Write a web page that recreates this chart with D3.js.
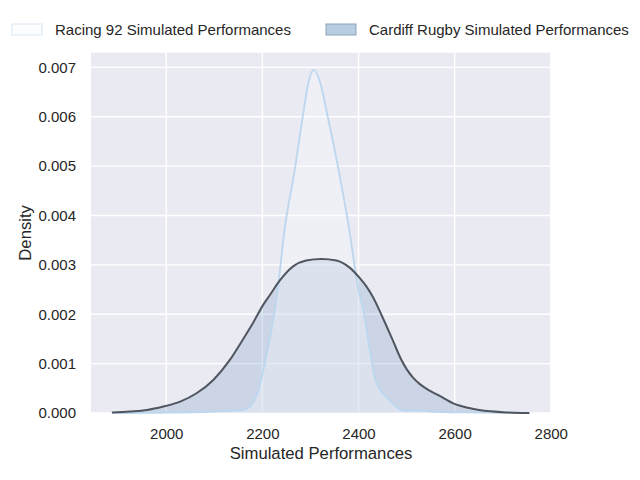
<!DOCTYPE html>
<html>
<head>
<meta charset="utf-8">
<script src="https://cdn.jsdelivr.net/npm/d3@7"></script>
<style>
  body { margin: 0; background: #fff; }
  text { font-family: "Liberation Sans", Arial, sans-serif; fill: #262626; }
</style>
</head>
<body>
<svg id="chart" width="640" height="480"></svg>
<script>
// density curves (score, density)
var raceX = [1888, 2070, 2118, 2159, 2174, 2190, 2205, 2232, 2246, 2267, 2284, 2296, 2307, 2320, 2336, 2359, 2381, 2398, 2412, 2423, 2435, 2464, 2495, 2527, 2568, 2651, 2757];
var raceY = [0, 0.00002, 0.00004, 0.00006, 0.00013, 0.0004, 0.001, 0.0025, 0.0037, 0.0049, 0.006, 0.0067, 0.00695, 0.0067, 0.006, 0.0049, 0.0037, 0.0026, 0.002, 0.0013, 0.00067, 0.00026, 0.00005, 0.00005, 0.00002, 0.00001, 0];

var cardX = [1887, 1925, 1960, 1994, 2029, 2063, 2098, 2132, 2157, 2182, 2203, 2215, 2236, 2264, 2291, 2323, 2354, 2381, 2402, 2416, 2430, 2450, 2471, 2489, 2513, 2527, 2547, 2568, 2596, 2630, 2651, 2713, 2755];
var cardY = [0.00001, 0.00003, 0.00006, 0.00013, 0.00023, 0.0004, 0.00067, 0.00107, 0.00145, 0.00185, 0.00221, 0.00238, 0.00268, 0.00297, 0.00309, 0.00312, 0.00309, 0.00295, 0.00274, 0.00257, 0.00235, 0.00194, 0.00148, 0.00108, 0.00072, 0.00059, 0.00046, 0.00035, 0.0002, 0.0001, 0.00006, 0.00001, 0];

var xTicks = [2000, 2200, 2400, 2600, 2800];
var yTicks = [0, 0.001, 0.002, 0.003, 0.004, 0.005, 0.006, 0.007];
var labels = ["Racing 92 Simulated Performances", "Cardiff Rugby Simulated Performances"];

var svg = d3.select("#chart");
var pLeft = 91, pRight = 551, pTop = 52.7, pBottom = 413;

var allX = raceX.concat(cardX);
var xmin = d3.min(allX), xmax = d3.max(allX), pad = (xmax - xmin) * 0.05;
var x = d3.scaleLinear().domain([xmin - pad, xmax + pad]).range([pLeft, pRight]);
var ymax = d3.max(raceY.concat(cardY)) * 1.05;
var y = d3.scaleLinear().domain([0, ymax]).range([pBottom, pTop]);

svg.append("rect").attr("x", pLeft).attr("y", pTop)
  .attr("width", pRight - pLeft).attr("height", pBottom - pTop).attr("fill", "#eaeaf2");

var grid = svg.append("g");
grid.selectAll(".gx").data(xTicks).enter().append("line")
  .attr("x1", d => x(d)).attr("x2", d => x(d)).attr("y1", pTop).attr("y2", pBottom)
  .attr("stroke", "#fff").attr("stroke-width", 1.4);
grid.selectAll(".gy").data(yTicks).enter().append("line")
  .attr("x1", pLeft).attr("x2", pRight).attr("y1", d => y(d)).attr("y2", d => y(d))
  .attr("stroke", "#fff").attr("stroke-width", 1.4);

function pts(xs, ys) { return xs.map((v, i) => [v, ys[i]]); }

var area = d3.area().x(d => x(d[0])).y0(y(0)).y1(d => y(d[1])).curve(d3.curveMonotoneX);
var line = d3.line().x(d => x(d[0])).y(d => y(d[1])).curve(d3.curveMonotoneX);

var race = pts(raceX, raceY), card = pts(cardX, cardY);

svg.append("path").attr("d", area(card)).attr("fill", "rgb(110,150,190)").attr("fill-opacity", 0.25);
svg.append("path").attr("d", area(race)).attr("fill", "rgb(250,252,255)").attr("fill-opacity", 0.35);
svg.append("path").attr("d", line(race)).attr("fill", "none").attr("stroke", "#bdd7ef").attr("stroke-width", 1.9);
svg.append("path").attr("d", line(card)).attr("fill", "none").attr("stroke", "#50565f").attr("stroke-width", 2);

// axes
var xa = svg.append("g").attr("transform", "translate(0," + pBottom + ")")
  .call(d3.axisBottom(x).tickValues(xTicks).tickSize(0).tickPadding(15).tickFormat(d3.format("d")));
var ya = svg.append("g").attr("transform", "translate(" + pLeft + ",0)")
  .call(d3.axisLeft(y).tickValues(yTicks).tickSize(0).tickPadding(15).tickFormat(d3.format(".3f")));
[xa, ya].forEach(a => {
  a.select(".domain").remove();
  a.selectAll("text").attr("font-size", 15).attr("font-family", "Liberation Sans, Arial, sans-serif").attr("fill", "#262626");
});

svg.append("text").attr("x", (pLeft + pRight) / 2).attr("y", 459)
  .attr("text-anchor", "middle").attr("font-size", 16.7).text("Simulated Performances");
svg.append("text").attr("transform", "translate(31," + (pTop + pBottom) / 2 + ") rotate(-90)")
  .attr("text-anchor", "middle").attr("font-size", 16.7).text("Density");

// legend
var leg = svg.append("g");
var lx = [12, 326];
leg.append("rect").attr("x", lx[0]).attr("y", 24).attr("width", 30).attr("height", 11)
  .attr("fill", "#fbfdff").attr("stroke", "#dbe8f5").attr("stroke-width", 1);
leg.append("rect").attr("x", lx[1]).attr("y", 24).attr("width", 30).attr("height", 11)
  .attr("fill", "#b9cde0").attr("stroke", "#8ca3ba").attr("stroke-width", 1);
leg.selectAll(".lt").data(labels).enter().append("text")
  .attr("x", (d, i) => lx[i] + 43).attr("y", 35).attr("font-size", 15).text(d => d);
</script>
</body>
</html>
